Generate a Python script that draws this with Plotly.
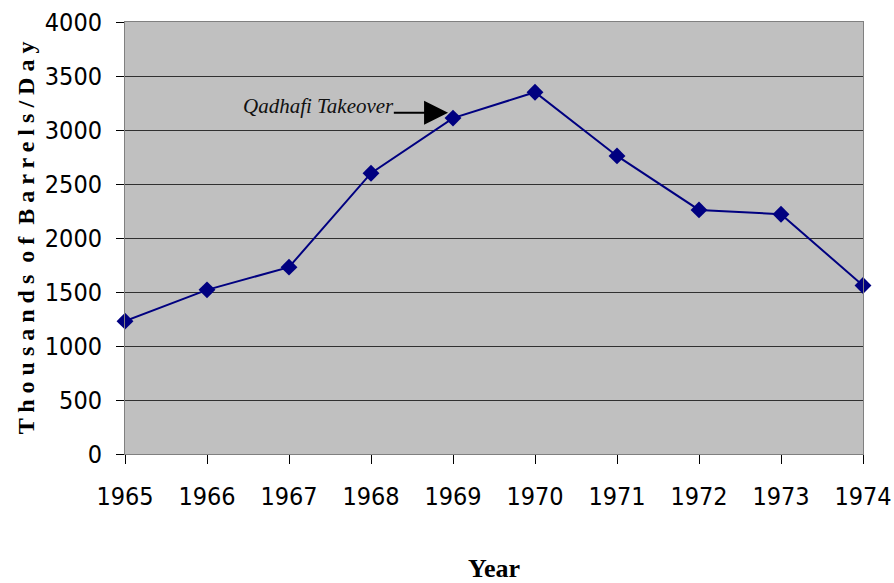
import plotly.graph_objects as go

years = [1965, 1966, 1967, 1968, 1969, 1970, 1971, 1972, 1973, 1974]
production = [1230, 1520, 1730, 2600, 3110, 3350, 2760, 2260, 2220, 1560]
y_ticks = [0, 500, 1000, 1500, 2000, 2500, 3000, 3500, 4000]

NAVY = '#000080'
TICK_FONT = dict(family='DejaVu Sans Condensed, Liberation Sans', size=25, color='black')
TITLE_FONT = 'Liberation Serif, Times New Roman, serif'

fig = go.Figure()
fig.add_trace(go.Scatter(
    x=years, y=production, mode='lines+markers',
    line=dict(color=NAVY, width=2),
    marker=dict(symbol='diamond', size=13, color=NAVY),
    cliponaxis=False, showlegend=False
))

# arrow pointing at the 1969 point
fig.add_annotation(
    x=1968.94, y=3160, ax=1968.26, ay=3160, xref='x', yref='y', axref='x', ayref='y',
    text='', showarrow=True, arrowhead=2, arrowsize=2.4, arrowwidth=2, arrowcolor='black'
)
fig.add_annotation(
    x=1968.31, y=3220, xref='x', yref='y', xanchor='right', yanchor='middle',
    text='<i>Qadhafi Takeover</i>', showarrow=False,
    font=dict(family=TITLE_FONT, size=21, color='#111')
)

ytitle = '  '.join(' '.join(w) for w in 'Thousands of Barrels/Day'.split())

fig.update_layout(
    width=894, height=583,
    plot_bgcolor='#C0C0C0', paper_bgcolor='white',
    margin=dict(l=125, r=31, t=22, b=129, autoexpand=False),
    xaxis=dict(
        range=[1965, 1974], tickvals=years, showgrid=False, zeroline=False,
        ticks='outside', ticklen=9, tickcolor='black', tickfont=TICK_FONT,
        ticklabelstandoff=11, showline=True, linecolor='#808080', mirror=True,
        automargin=False,
        title=dict(text='<b>Year</b>', font=dict(family=TITLE_FONT, size=26, color='black'), standoff=48)
    ),
    yaxis=dict(
        range=[0, 4000], tickvals=y_ticks, showgrid=True, gridcolor='#303030', gridwidth=1,
        zeroline=False, ticks='outside', ticklen=8, tickcolor='black', tickfont=TICK_FONT,
        ticklabelstandoff=9, showline=True, linecolor='#808080', mirror=True,
        automargin=False,
        title=dict(text='<b>' + ytitle + '</b>', font=dict(family=TITLE_FONT, size=24, color='black'), standoff=3)
    ),
)

fig.write_html('out.html', config={'displayModeBar': False},
               post_script="document.body.style.margin='0';")
